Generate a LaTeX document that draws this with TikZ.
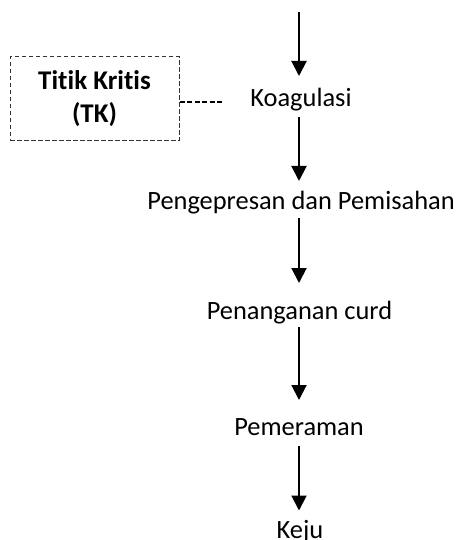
\documentclass[tikz,border=0pt]{standalone}
\usepackage{fontspec}
\setmainfont{Carlito}[Ligatures=NoCommon]
\usetikzlibrary{arrows.meta}
\begin{document}
\begin{tikzpicture}[x=1pt,y=-1pt,
  stage/.style={inner sep=0pt, outer sep=0pt, anchor=base,
    font=\fontsize{26.4}{30}\selectfont, text height=18pt, text depth=5pt},
  flow/.style={line width=2pt, -{Triangle[length=15pt,width=15pt]}},
  tkbox/.style={draw=black!80, line width=1pt, dash pattern=on 4.5pt off 2.5pt,
    minimum width=169pt, minimum height=84pt, inner sep=0pt, align=center,
    font=\fontsize{27}{33}\selectfont\bfseries},
  tklink/.style={line width=1.3pt, dash pattern=on 5pt off 2.5pt}]
  \useasboundingbox (0,0) rectangle (460,540);

  % process steps
  \coordinate (start) at (299,12);
  \node[stage] (koag) at (301,107) {Koagulasi};
  \node[stage] (press) at (301,209) {Pengepresan dan Pemisahan};
  \node[stage] (curd) at (299.5,319) {Penanganan curd};
  \node[stage] (peram) at (299,435) {Pemeraman};
  \node[stage] (keju) at (300,538.5) {Keju};

  % critical point box
  \node[tkbox] (tk) at (94.5,99) {Titik Kritis\\(TK)};
  \coordinate (tkend) at (224,102);

  % flow arrows
  \draw[flow, shorten >=13pt] (start) -- (start |- koag.north);
  \draw[flow, shorten <=5pt, shorten >=10pt] (koag.south -| start) -- (start |- press.north);
  \draw[flow, shorten <=4pt, shorten >=18pt] (press.south -| start) -- (start |- curd.north);
  \draw[flow, shorten <=3pt, shorten >=17pt] (curd.south -| start) -- (start |- peram.north);
  \draw[flow, shorten <=6pt, shorten >=10pt] (peram.south -| start) -- (start |- keju.north);

  % link from box to step
  \draw[tklink] (tk.east |- tkend) -- (tkend);
\end{tikzpicture}
\end{document}
